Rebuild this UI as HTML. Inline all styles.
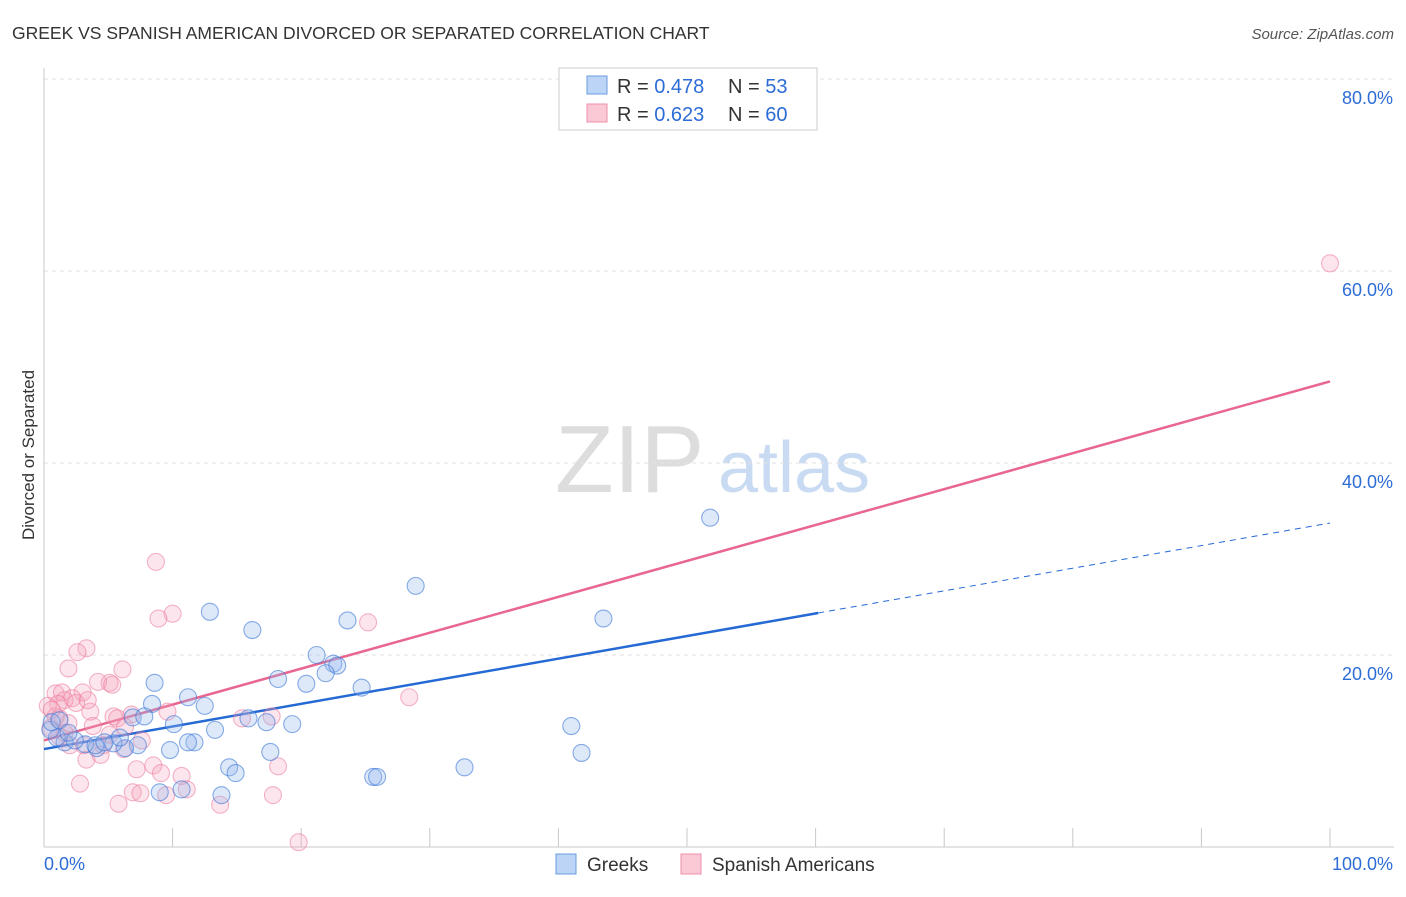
<!DOCTYPE html>
<html><head><meta charset="utf-8"><style>
body{margin:0;background:#fff;font-family:"Liberation Sans",sans-serif;}
svg text{font-family:"Liberation Sans",sans-serif;}
</style></head><body>
<svg id="chart" width="1406" height="892">
<text x="12" y="39" font-size="17.5" fill="#333">GREEK VS SPANISH AMERICAN DIVORCED OR SEPARATED CORRELATION CHART</text>
<text x="1394" y="39" font-size="15" fill="#555" font-style="italic" text-anchor="end">Source: ZipAtlas.com</text>
<text x="555" y="492" font-size="96" fill="#ddd" font-family="Liberation Serif">ZIP</text>
<text x="718" y="492" font-size="72" fill="#c9dbf2">atlas</text>
<text transform="translate(34,455) rotate(-90)" font-size="17" fill="#333" text-anchor="middle">Divorced or Separated</text>
<g id="grid"></g><g id="axes"></g><g id="lines"></g><g id="pts"></g>
<g>
<rect x="559" y="68" width="258" height="62" fill="#fff" stroke="#ccc"/>
<rect x="587" y="76" width="20" height="18" fill="#bcd4f5" stroke="#6a9be0"/>
<rect x="587" y="104" width="20" height="18" fill="#fbc8d6" stroke="#ef8fac"/>
<text x="617" y="93" font-size="20" fill="#333">R = <tspan fill="#2d6cd6">0.478</tspan></text>
<text x="728" y="93" font-size="20" fill="#333">N = <tspan fill="#2d6cd6">53</tspan></text>
<text x="617" y="121" font-size="20" fill="#333">R = <tspan fill="#2d6cd6">0.623</tspan></text>
<text x="728" y="121" font-size="20" fill="#333">N = <tspan fill="#2d6cd6">60</tspan></text>
</g>
<g>
<rect x="556" y="854" width="20" height="20" fill="#bcd4f5" stroke="#6a9be0"/>
<text x="587" y="871" font-size="19" fill="#333">Greeks</text>
<rect x="681" y="854" width="20" height="20" fill="#fbc8d6" stroke="#ef8fac"/>
<text x="712" y="871" font-size="19" fill="#333">Spanish Americans</text>
</g>
</svg>
<script>
const yTicks=[20,40,60,80];
const yTickLabels=["20.0%","40.0%","60.0%","80.0%"];
const xTickVals=[0,10,20,30,40,50,60,70,80,90,100];
const greekPx=[[710,518],[416,586],[210,612],[604,619],[252,630],[347,620],[317,655],[333,664],[337,666],[325,673],[278,679],[306,684],[362,688],[155,683],[188,697],[152,704],[205,706],[133,717],[144,716],[174,724],[215,730],[292,724],[266,722],[571,726],[582,753],[465,767],[229,767],[235,773],[373,777],[377,777],[270,752],[195,742],[188,742],[170,750],[138,745],[125,748],[113,743],[97,748],[85,744],[65,742],[57,738],[50,730],[52,722],[60,720],[95,745],[104,742],[160,792],[182,789],[222,795],[248,718],[120,738],[75,740],[68,733]];
const spanishPx=[[1330,263],[156,562],[172,614],[159,619],[368,622],[87,648],[78,652],[68,668],[123,669],[110,683],[98,682],[112,685],[409,697],[56,693],[62,692],[82,692],[72,698],[65,700],[58,704],[48,706],[76,703],[90,712],[168,712],[114,716],[117,718],[242,718],[271,716],[60,718],[68,723],[93,726],[125,727],[50,728],[64,733],[84,745],[103,745],[124,749],[87,760],[153,765],[136,769],[161,773],[181,776],[278,766],[80,784],[133,792],[141,793],[166,795],[187,789],[118,804],[220,805],[273,795],[298,842],[55,716],[110,735],[142,740],[70,745],[100,755],[52,710],[88,700],[60,737],[131,715]];
const greekX=greekPx.map(p=>+((p[0]-44)/12.86).toFixed(1));
const greekY=greekPx.map(p=>+((847-p[1])/9.6).toFixed(1));
const spanishX=spanishPx.map(p=>+((p[0]-44)/12.86).toFixed(1));
const spanishY=spanishPx.map(p=>+((847-p[1])/9.6).toFixed(1));
const greekTrend=[10.2,33.75];const greekSolidEnd=60.2;
const spanishTrend=[11.1,48.5];
const X=v=>44+v*12.86, Y=v=>847-v*9.6;
const NS="http://www.w3.org/2000/svg";
function mk(tag,at,parent){const e=document.createElementNS(NS,tag);for(const k in at)e.setAttribute(k,at[k]);document.getElementById(parent).appendChild(e);return e;}
yTicks.forEach((t,i)=>{
 const l=mk('line',{x1:44,x2:1394,y1:Y(t),y2:Y(t),stroke:'#e2e2e2','stroke-dasharray':'4,4'},'grid');
 
 
 const tx=mk('text',{x:1393,y:Y(t)+25,'font-size':18,fill:'#2d6cd6','text-anchor':'end'},'grid');tx.textContent=yTickLabels[i];
 
 
});
mk('line',{x1:44,x2:44,y1:68,y2:847,stroke:'#c8c8c8'},'axes');
mk('line',{x1:44,x2:1394,y1:847,y2:847,stroke:'#c8c8c8'},'axes');
xTickVals.forEach(v=>{const t=mk('line',{x1:X(v),x2:X(v),y1:828,y2:847,stroke:'#c8c8c8'},'axes');
 
 });
let a=mk('text',{x:44,y:870,'font-size':18,fill:'#2d6cd6'},'axes');a.textContent='0.0%';


a=mk('text',{x:1393,y:870,'font-size':18,fill:'#2d6cd6','text-anchor':'end'},'axes');a.textContent='100.0%';


function addPts(xs,ys,fill,stroke,name){xs.forEach((x,i)=>{const c=mk('circle',{cx:X(x),cy:Y(ys[i]),r:8.5,fill:fill,stroke:stroke,'stroke-width':1.1},'pts');
 
 });}
addPts(spanishX,spanishY,'rgba(246,160,185,0.28)','rgba(236,120,155,0.55)','spanish-point');
addPts(greekX,greekY,'rgba(150,185,235,0.32)','rgba(60,120,215,0.6)','greek-point');
const gl=t=>greekTrend[0]+(greekTrend[1]-greekTrend[0])*t/100;
let l=mk('line',{x1:X(0),y1:Y(gl(0)),x2:X(greekSolidEnd),y2:Y(gl(greekSolidEnd)),stroke:'#2469d4','stroke-width':2.5},'lines');


l=mk('line',{x1:X(greekSolidEnd),y1:Y(gl(greekSolidEnd)),x2:X(100),y2:Y(gl(100)),stroke:'#2469d4','stroke-width':1,'stroke-dasharray':'6,5'},'lines');


l=mk('line',{x1:X(0),y1:Y(spanishTrend[0]),x2:X(100),y2:Y(spanishTrend[1]),stroke:'#e8668f','stroke-width':2.5},'lines');


</script>
</body></html>
